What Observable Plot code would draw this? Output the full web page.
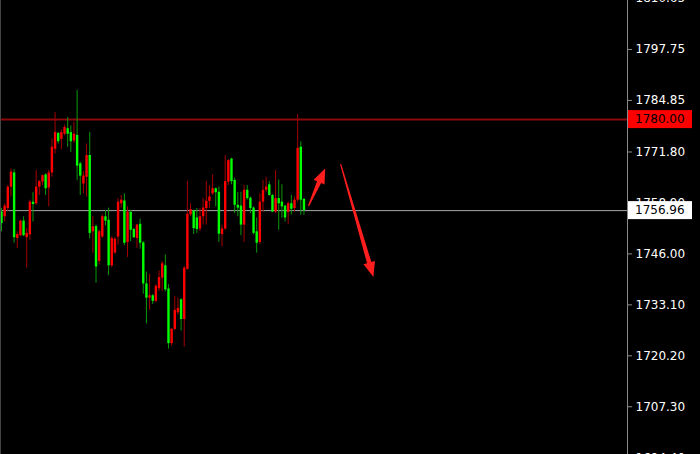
<!DOCTYPE html>
<html><head><meta charset="utf-8">
<script src="https://cdn.jsdelivr.net/npm/d3@7"></script>
<script src="https://cdn.jsdelivr.net/npm/@observablehq/plot@0.6"></script>
<style>html,body{margin:0;padding:0;background:#000;overflow:hidden}</style>
</head><body><div id="chart"></div>
<script>
// OHLC values (one entry per candle, left to right)
const opens = [1756.6,1755.4,1757.5,1762.9,1766.5,1749.9,1750.6,1754.3,1750.1,1750.8,
 1759.1,1758.7,1762.9,1764.2,1766.0,1762.7,1766.5,1772.5,1776.5,1775.0,
 1776.3,1777.7,1776.7,1774.6,1776.0,1768.8,1763.7,1765.4,1770.9,1751.6,
 1752.9,1744.1,1750.3,1755.4,1754.5,1743.0,1746.2,1750.3,1758.7,1759.4,
 1748.9,1756.5,1752.2,1749.9,1753.5,1748.8,1738.4,1734.8,1735.4,1734.0,
 1737.2,1739.9,1743.0,1737.1,1723.3,1726.9,1731.1,1734.4,1729.4,1742.1,
 1755.9,1756.8,1755.1,1752.3,1755.4,1757.5,1759.3,1761.2,1762.5,1761.6,
 1750.9,1752.3,1764.2,1770.0,1764.6,1758.3,1758.1,1753.3,1762.1,1760.1,
 1757.6,1751.6,1748.9,1759.1,1762.1,1763.5,1760.8,1756.6,1760.0,1759.1,
 1758.1,1756.5,1758.7,1757.5,1759.6,1773.0,1759.8];
const highs = [1757.5,1758.7,1763.3,1767.5,1767.3,1751.6,1754.5,1755.4,1752.4,1759.6,
 1761.5,1767.1,1764.6,1766.0,1766.3,1767.1,1775.1,1781.8,1776.7,1777.4,
 1778.6,1780.5,1778.4,1779.4,1787.4,1769.2,1766.8,1773.8,1776.7,1755.4,
 1753.3,1752.0,1755.9,1757.0,1757.6,1750.3,1750.1,1760.0,1760.8,1761.2,
 1757.9,1757.0,1752.4,1753.5,1754.8,1749.1,1741.4,1740.9,1735.7,1738.2,
 1741.7,1744.1,1745.7,1738.2,1727.1,1735.2,1734.8,1734.6,1742.8,1764.4,
 1758.7,1757.1,1757.5,1757.5,1760.0,1764.3,1763.3,1766.0,1762.7,1762.9,
 1753.3,1770.9,1769.9,1770.2,1765.2,1761.5,1761.6,1763.3,1763.3,1760.4,
 1757.9,1755.1,1761.2,1764.6,1765.4,1764.3,1761.0,1767.1,1764.7,1763.5,
 1758.3,1759.1,1760.8,1760.4,1781.3,1774.4,1760.1];
const lows = [1751.6,1754.1,1756.8,1760.4,1748.7,1747.4,1750.4,1750.4,1742.4,1749.5,
 1754.1,1758.3,1760.8,1763.3,1760.8,1757.9,1765.4,1771.3,1773.8,1772.4,
 1775.9,1773.0,1771.7,1774.0,1764.6,1760.8,1761.2,1760.4,1749.8,1746.2,
 1738.6,1743.2,1749.9,1753.1,1740.5,1742.5,1745.9,1748.2,1757.6,1748.1,
 1745.1,1749.1,1749.9,1747.4,1747.2,1735.8,1728.3,1731.7,1733.2,1733.6,
 1736.5,1736.5,1736.4,1721.9,1722.7,1726.5,1730.5,1726.5,1722.4,1741.9,
 1755.4,1750.9,1751.2,1751.6,1753.3,1753.3,1757.5,1760.8,1757.9,1748.9,
 1747.8,1752.0,1763.3,1763.5,1756.2,1755.4,1750.6,1748.9,1759.6,1756.2,
 1750.8,1746.2,1748.4,1756.6,1761.6,1760.6,1756.5,1756.2,1752.0,1755.0,
 1754.1,1753.5,1755.9,1756.6,1759.1,1755.8,1755.8];
const closes = [1753.7,1758.1,1762.9,1766.7,1750.1,1750.9,1754.3,1750.6,1751.2,1759.1,
 1758.5,1762.9,1764.3,1765.8,1762.5,1766.5,1773.0,1776.7,1774.4,1776.7,
 1778.0,1776.3,1774.4,1776.3,1768.2,1765.7,1765.7,1770.9,1751.2,1752.9,
 1742.7,1751.6,1755.4,1754.3,1743.0,1749.9,1749.7,1759.1,1759.6,1748.7,
 1756.6,1752.0,1750.1,1753.3,1748.7,1738.4,1734.8,1735.4,1734.0,1737.8,
 1740.0,1743.5,1736.9,1723.3,1726.9,1731.7,1732.2,1729.4,1742.4,1756.0,
 1757.2,1752.4,1752.2,1755.4,1757.6,1759.3,1760.4,1762.5,1761.5,1751.0,
 1752.3,1764.3,1769.6,1764.3,1758.3,1757.6,1753.3,1762.1,1760.0,1757.5,
 1751.2,1748.7,1759.1,1762.1,1762.9,1760.8,1756.6,1760.0,1758.7,1757.9,
 1755.1,1758.7,1757.3,1759.6,1772.7,1759.6,1756.96];

// price-axis tick labels
const tickValues = [1810.65,1797.75,1784.85,1771.80,1758.90,1746.00,1733.10,1720.20,1707.30,1694.40];
const levelPrice = 1780.00;   // red horizontal level
const lastPrice = 1756.96;    // current price line

// hand-drawn arrows (candle index, price)
const arrowX1 = [98.6, 108.8];
const arrowY1 = [1758.0, 1768.6];
const arrowX2 = [103.9, 119.2];
const arrowY2 = [1767.5, 1740.0];

// visible window (candle index, price)
const xDomain = [0.68, 199.7];
const yDomain = [1695.22, 1810.15];

const candles = opens.map((o, k) => ({i: k + 1, open: o, high: highs[k], low: lows[k], close: closes[k], up: closes[k] >= o}));
const arrows = arrowX1.map((x, k) => ({x1: x, y1: arrowY1[k], x2: arrowX2[k], y2: arrowY2[k]}));

const chart = Plot.plot({
  width: 700, height: 454,
  marginLeft: 0, marginRight: 73, marginTop: 0, marginBottom: 0,
  style: {background: "#000", color: "#fff", fontFamily: "'DejaVu Sans', sans-serif", fontSize: "12px", overflow: "hidden"},
  x: {domain: xDomain, axis: null},
  y: {domain: yDomain, axis: "right", ticks: tickValues, tickFormat: d => d.toFixed(2), tickSize: 4, tickPadding: 4, label: null},
  marks: [
    Plot.ruleY([levelPrice], {stroke: "#8c0a0a", strokeWidth: 2}),
    Plot.ruleY([lastPrice], {stroke: "#a4a8ae", strokeWidth: 1}),
    Plot.ruleX(candles, {x: "i", y1: "low", y2: "high", stroke: d => d.up ? "#a50000" : "#0a9a0a", strokeWidth: 1}),
    Plot.ruleX(candles, {x: "i", y1: "open", y2: "close", stroke: d => d.up ? "#ff0000" : "#00ff00", strokeWidth: 2.4}),
    Plot.ruleX([xDomain[1]], {stroke: "#8a8a8a", strokeWidth: 1}),
    Plot.ruleX([xDomain[0]], {stroke: "#444", strokeWidth: 1})
  ]
});
document.getElementById("chart").appendChild(chart);

const svg = d3.select(chart);
svg.selectAll('[aria-label="y-axis tick"], [aria-label="y-axis"] line').attr("stroke", "#8a8a8a");
const xS = chart.scale("x");
const yS = chart.scale("y");

// filled, tapered arrows positioned through the plot's scales
const arrowG = svg.append("g").attr("fill", "#ff1e1e");
arrows.forEach(a => {
  const tx = xS.apply(a.x1), ty = yS.apply(a.y1);
  const px = xS.apply(a.x2), py = yS.apply(a.y2);
  const L = Math.hypot(px - tx, py - ty);
  const ux = (px - tx) / L, uy = (py - ty) / L;
  const nx = -uy, ny = ux;
  const headLen = 15, headW = 12, w0 = 1.2, w1 = 4.5;
  const bx = px - ux * headLen, by = py - uy * headLen;
  const pts = [
    [tx + nx * w0 / 2, ty + ny * w0 / 2],
    [bx + nx * w1 / 2, by + ny * w1 / 2],
    [bx + nx * headW / 2, by + ny * headW / 2],
    [px, py],
    [bx - nx * headW / 2, by - ny * headW / 2],
    [bx - nx * w1 / 2, by - ny * w1 / 2],
    [tx - nx * w0 / 2, ty - ny * w0 / 2]
  ];
  arrowG.append("path").attr("d", "M" + pts.map(p => p.join(",")).join("L") + "Z");
});

const x0 = 700 - 73 + 1;
function priceBox(v, bg, fg) {
  const yy = yS.apply(v);
  const g = svg.append("g");
  g.append("rect").attr("x", x0).attr("y", yy - 9).attr("width", 64).attr("height", 18).attr("fill", bg);
  g.append("text").attr("x", x0 + 7).attr("y", yy).attr("dy", "0.36em").attr("fill", fg)
    .attr("text-anchor", "start")
    .attr("font-family", "'DejaVu Sans', sans-serif").attr("font-size", 12).text(v.toFixed(2));
}
priceBox(levelPrice, "#ff0000", "#000");
priceBox(lastPrice, "#ffffff", "#000");
</script></body></html>
